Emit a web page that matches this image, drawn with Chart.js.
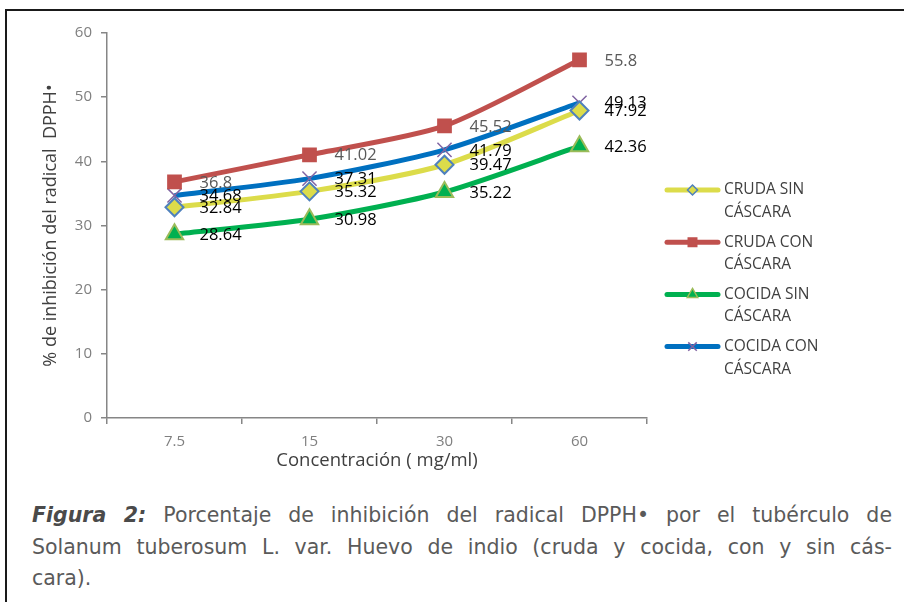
<!DOCTYPE html>
<html><head><meta charset="utf-8">
<script src="https://cdn.jsdelivr.net/npm/chart.js@4"></script>
<style>
html,body{margin:0;padding:0;background:#fff}
body{width:904px;height:602px;overflow:hidden;position:relative}
#frame{position:absolute;left:5px;top:9px;width:920px;height:620px;border-top:2px solid #1a1a1a;border-left:2px solid #1a1a1a;box-sizing:border-box}
#wrap{position:absolute;left:0;top:0;width:904px;height:480px}
#cap{position:absolute;left:32px;top:500px;width:860px;font-family:'DejaVu Sans';font-size:20px;color:#5a5a5a;line-height:31.5px}
#cap div{white-space:nowrap}
.j{text-align:justify;text-align-last:justify}
#cap b{font-weight:bold;font-style:italic;color:#4a4a4a}
#meas{position:absolute;visibility:hidden;white-space:nowrap;font-family:'DejaVu Sans'}
</style>
</head><body>
<div id="frame"></div>
<div id="wrap"><canvas id="c" width="904" height="480"></canvas></div>
<div id="cap">
<div class="j"><b>Figura 2:</b> Porcentaje de inhibición del radical DPPH• por el tubérculo de</div>
<div class="j">Solanum tuberosum L. var. Huevo de indio (cruda y cocida, con y sin cás-</div>
<div>cara).</div>
</div>
<span id="meas"></span>
<script>
const categories = ['7.5', '15', '30', '60'];
const crudaSinCascara = [32.84, 35.32, 39.47, 47.92];
const crudaConCascara = [36.8, 41.02, 45.52, 55.8];
const cocidaSinCascara = [28.64, 30.98, 35.22, 42.36];
const cocidaConCascara = [34.68, 37.31, 41.79, 49.13];
const seriesNames = [['CRUDA SIN', 'CÁSCARA'], ['CRUDA CON', 'CÁSCARA'], ['COCIDA SIN', 'CÁSCARA'], ['COCIDA CON', 'CÁSCARA']];
const yTicks = [0, 10, 20, 30, 40, 50, 60];

// fit caption font so the justified lines fit the box
(function(){
  const cap = document.getElementById('cap');
  const lines = cap.querySelectorAll('.j');
  const m = document.getElementById('meas');
  let size = 20.5;
  for (; size > 14; size -= 0.25) {
    m.style.fontSize = size + 'px';
    let ok = true;
    lines.forEach(l => { m.innerHTML = l.innerHTML; if (m.getBoundingClientRect().width > 850) ok = false; });
    if (ok) break;
  }
  cap.style.fontSize = size + 'px';
})();

const FONT = "'Open Sans'";

const styles = [
  {line:'#DCDC4A', fill:'#DCDC4A', border:'#4F81BD', shape:'rectRot', r:9, lr:5, label:'#000000'},
  {line:'#C0504D', fill:'#C0504D', border:'#C0504D', shape:'rect', r:9, lr:6, label:'#595959'},
  {line:'#00B050', fill:'#00B050', border:'#9BBB59', shape:'triangle', r:10, lr:6, label:'#000000'},
  {line:'#0070C0', fill:'#8064A2', border:'#8064A2', shape:'crossRot', r:10, lr:6, label:'#000000'}
];
const seriesData = [crudaSinCascara, crudaConCascara, cocidaSinCascara, cocidaConCascara];

const datasets = seriesData.map((d, i) => ({
  label: seriesNames[i].join(' '),
  data: d,
  borderColor: styles[i].line,
  borderWidth: 5,
  tension: 0.25,
  pointStyle: styles[i].shape,
  pointRadius: styles[i].r,
  pointHoverRadius: styles[i].r,
  pointBackgroundColor: styles[i].fill,
  pointBorderColor: styles[i].border,
  pointBorderWidth: i === 3 ? 1.5 : 2,
  fill: false
}));

const labelPlugin = {
  id: 'labels',
  afterDatasetsDraw(chart) {
    const ctx = chart.ctx;
    ctx.save();
    ctx.font = "16.5px " + FONT;
    ctx.textBaseline = 'middle';
    ctx.textAlign = 'left';
    chart.data.datasets.forEach((ds, i) => {
      const meta = chart.getDatasetMeta(i);
      meta.data.forEach((pt, j) => {
        ctx.fillStyle = styles[i].label;
        ctx.fillText(String(ds.data[j]), pt.x + 25, pt.y + 1);
      });
    });
    ctx.restore();
  }
};

const legendPlugin = {
  id: 'customLegend',
  afterDraw(chart) {
    const ctx = chart.ctx;
    ctx.save();
    const x0 = 667, x1 = 718, tx = 724;
    styles.forEach((s, i) => {
      const y = 190 + i * 52.2;
      ctx.strokeStyle = s.line;
      ctx.lineWidth = 5;
      ctx.lineCap = 'round';
      ctx.beginPath(); ctx.moveTo(x0, y); ctx.lineTo(x1, y); ctx.stroke();
      ctx.lineCap = 'butt';
      const cx = (x0 + x1) / 2;
      ctx.fillStyle = s.fill; ctx.strokeStyle = s.border; ctx.lineWidth = 1.5;
      Chart.helpers.drawPoint(ctx, {pointStyle: s.shape, radius: s.lr, rotation: 0, borderWidth: 1.5}, cx, y);
      ctx.fillStyle = '#404040';
      ctx.font = "15.5px " + FONT;
      ctx.textBaseline = 'middle';
      ctx.textAlign = 'left';
      ctx.fillText(seriesNames[i][0], tx, y);
      ctx.fillText(seriesNames[i][1], tx, y + 22.5);
    });
    ctx.restore();
  }
};

new Chart(document.getElementById('c'), {
  type: 'line',
  data: { labels: categories, datasets },
  options: {
    responsive: false,
    animation: false,
    events: [],
    layout: { padding: { left: 0, top: 33, right: 257, bottom: 0 } },
    plugins: { legend: { display: false }, tooltip: { enabled: false } },
    scales: {
      x: {
        offset: true,
        grid: { display: true, drawOnChartArea: false, offset: true, color: '#868686', lineWidth: 1.5, tickLength: 6 },
        border: { color: '#868686', width: 1.5 },
        ticks: { color: '#7f7f7f', font: { family: FONT, size: 15 }, padding: 9 },
        title: { display: true, text: 'Concentración ( mg/ml)', color: '#404040', font: { family: FONT, size: 18.5 }, padding: { top: 0, bottom: 8 } },
        afterFit(s) { s.height = 62; }
      },
      y: {
        min: 0, max: 60,
        afterBuildTicks(s) { s.ticks = yTicks.map(v => ({ value: v })); },
        grid: { display: true, drawOnChartArea: false, color: '#868686', lineWidth: 1.5, tickLength: 6 },
        border: { color: '#868686', width: 1.5 },
        ticks: { color: '#7f7f7f', font: { family: FONT, size: 15 }, padding: 9 },
        title: { display: true, text: '% de inhibición del radical  DPPH•', color: '#404040', font: { family: FONT, size: 18 }, padding: { top: 40, bottom: 0 } },
        afterFit(s) { s.width = 107; }
      }
    }
  },
  plugins: [labelPlugin, legendPlugin]
});
</script>
</body></html>
